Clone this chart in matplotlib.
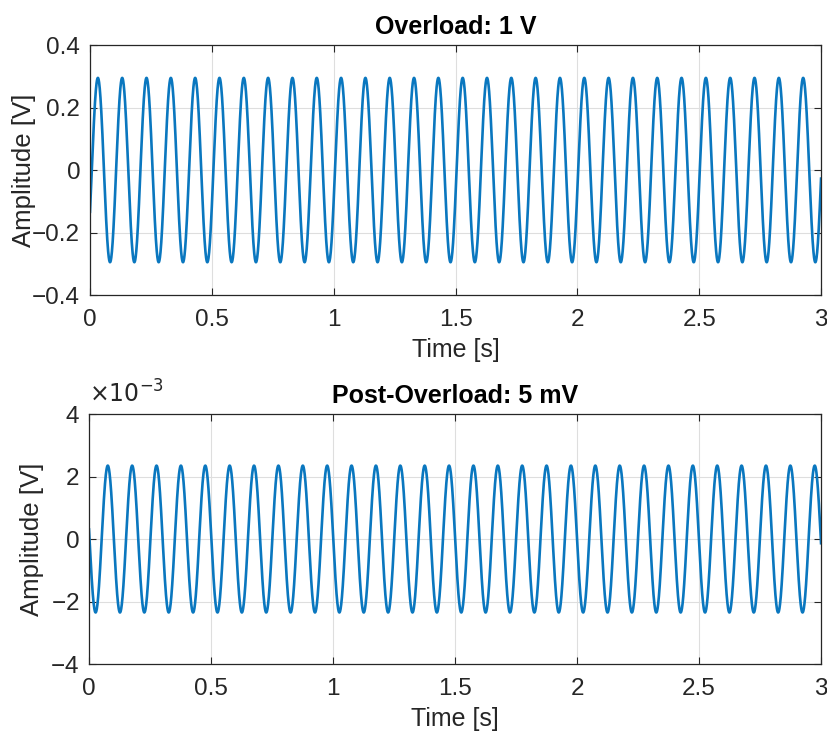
import numpy as np
import matplotlib
matplotlib.use("Agg")
import matplotlib.pyplot as plt
from matplotlib.ticker import ScalarFormatter, FuncFormatter

# signal parameters
duration = 3.0
fs = 2000

overload_amp = 0.295       # V
overload_freq = 10.02      # Hz
overload_phase = -0.47     # rad at t = 0

post_amp = 2.35e-3         # V
post_freq = 10.01          # Hz
post_phase = 3.01          # rad at t = 0

x_ticks = [0, 0.5, 1, 1.5, 2, 2.5, 3]
top_yticks = [-0.4, -0.2, 0, 0.2, 0.4]
bottom_yticks = [-4e-3, -2e-3, 0, 2e-3, 4e-3]

titles = ["Overload: 1 V", "Post-Overload: 5 mV"]

t = np.arange(0, duration + 1 / fs, 1 / fs)
overload = overload_amp * np.sin(2 * np.pi * overload_freq * t + overload_phase)
post = post_amp * np.sin(2 * np.pi * post_freq * t + post_phase)

plt.rcParams["font.family"] = ["Liberation Sans", "DejaVu Sans"]
line_color = "#0a77bf"
spine_color = "#262626"

fig = plt.figure(figsize=(8.27, 7.33), dpi=100)
ax1 = fig.add_axes([0.1088, 0.5975, 0.884, 0.341])
ax2 = fig.add_axes([0.1076, 0.0941, 0.8852, 0.341])


def style(ax, yticks, ylim):
    ax.set_xlim(0, duration)
    ax.set_ylim(*ylim)
    ax.set_xticks(x_ticks)
    ax.set_yticks(yticks)
    ax.xaxis.set_major_formatter(FuncFormatter(lambda v, p: "%g" % v))
    ax.grid(True, color="#dedede", linewidth=0.8)
    ax.set_axisbelow(True)
    ax.tick_params(direction="in", top=True, right=True, length=5,
                   width=0.8, color=spine_color, labelsize=17.5,
                   labelcolor=spine_color)
    ax.tick_params(axis="x", pad=10)
    ax.tick_params(axis="y", pad=7)
    for s in ax.spines.values():
        s.set_color(spine_color)
        s.set_linewidth(0.9)
    ax.set_xlabel("Time [s]", fontsize=18, color=spine_color, labelpad=5)
    ax.set_ylabel("Amplitude [V]", fontsize=18.5, color=spine_color)


ax1.plot(t, overload, color=line_color, linewidth=1.9)
style(ax1, top_yticks, (-0.4, 0.4))
ax1.yaxis.set_major_formatter(FuncFormatter(
    lambda v, p: ("%g" % v).replace("-", "\u2212")))
ax1.yaxis.set_label_coords(-0.074, 0.5)
ax1.set_title(titles[0], fontsize=18, fontweight="bold", pad=8)

ax2.plot(t, post, color=line_color, linewidth=1.9)
style(ax2, bottom_yticks, (-4e-3, 4e-3))
fmt = ScalarFormatter(useMathText=True)
fmt.set_powerlimits((-2, 2))
ax2.yaxis.set_major_formatter(fmt)
ax2.yaxis.get_offset_text().set_visible(False)
ax2.yaxis.set_label_coords(-0.061, 0.5)
ax2.text(0, 1.025, r"$\times10^{-3}$", transform=ax2.transAxes,
         fontsize=17, color=spine_color, ha="left", va="bottom")
ax2.set_title(titles[1], fontsize=18, fontweight="bold", pad=8)

fig.savefig("out.png", dpi=100)
